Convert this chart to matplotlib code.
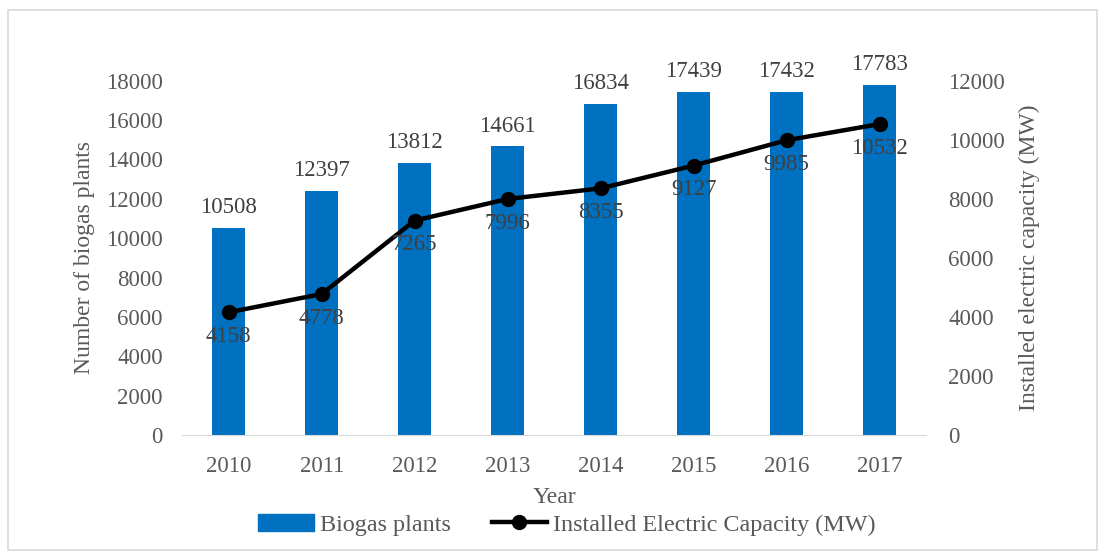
import matplotlib.pyplot as plt
import matplotlib.patches as mpatches
import numpy as np

years = ['2010', '2011', '2012', '2013', '2014', '2015', '2016', '2017']
biogas_plants = [10508, 12397, 13812, 14661, 16834, 17439, 17432, 17783]
capacity_mw = [4158, 4778, 7265, 7996, 8355, 9127, 9985, 10532]

plt.rcParams['font.family'] = ['Liberation Serif', 'DejaVu Serif']
grey = '#595959'
label_grey = '#404040'

fig = plt.figure(figsize=(11.05, 5.57), dpi=100)
ax = fig.add_axes([0.165, 0.219, 0.673, 0.636])
ax2 = ax.twinx()

x = np.arange(len(years))
ax.bar(x, biogas_plants, width=0.355, color='#0070C0', zorder=2)
for xi, v in zip(x, biogas_plants):
    ax.annotate(str(v), (xi, v), xytext=(0, 7), textcoords='offset points',
                ha='center', va='bottom', fontsize=16.5, color=label_grey)

ax2.plot(x, capacity_mw, color='black', lw=3.2, marker='o', ms=10, zorder=3)
for xi, v in zip(x, capacity_mw):
    ax2.annotate(str(v), (xi, v), xytext=(0, -10), textcoords='offset points',
                 ha='center', va='top', fontsize=16.5, color=label_grey)

ax.set_xlim(-0.5, len(years) - 0.5)
ax.set_ylim(0, 18000)
ax2.set_ylim(0, 12000)
ax.set_yticks(np.arange(0, 18001, 2000))
ax2.set_yticks(np.arange(0, 12001, 2000))
ax.set_xticks(x)
ax.set_xticklabels(years)

for a in (ax, ax2):
    for s in a.spines.values():
        s.set_visible(False)
    a.tick_params(length=0, labelsize=16.5, colors=grey)
ax.spines['bottom'].set_visible(True)
ax.spines['bottom'].set_color('#d9d9d9')
ax.tick_params(axis='y', pad=14)
ax2.tick_params(axis='y', pad=16)
ax.tick_params(axis='x', pad=15)

ax.set_ylabel('Number of biogas plants', fontsize=17, color=grey, labelpad=8)
ax2.set_ylabel('Installed electric capacity (MW)', fontsize=17, color=grey, labelpad=10)
ax.set_xlabel('Year', fontsize=17, color=grey, labelpad=7)

handles = [mpatches.Patch(color='#0070C0'),
           plt.Line2D([], [], color='black', lw=3.2, marker='o', ms=10)]
fig.legend(handles, ['Biogas plants', 'Installed Electric Capacity (MW)'],
           loc='center', bbox_to_anchor=(0.513, 0.058), ncol=2, frameon=False,
           fontsize=17.4, labelcolor=grey, handlelength=2.3, handletextpad=0.25,
           columnspacing=1.7)

fig.patches.append(mpatches.Rectangle((8 / 1105, 7 / 557), 1089 / 1105, 540 / 557,
                                      transform=fig.transFigure, fill=False,
                                      edgecolor='#d9d9d9', lw=1.2))

fig.savefig('out.png', dpi=100)
